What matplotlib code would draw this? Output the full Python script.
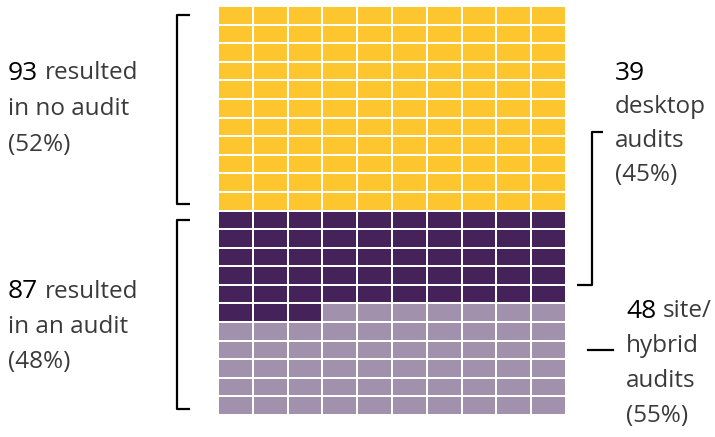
import matplotlib.pyplot as plt
from matplotlib.patches import Rectangle

# waffle cell counts as drawn (10 columns, filled row by row from the top)
n_cols = 10
group_names = ["no audit", "desktop audit", "site/hybrid audit"]
group_cells = [110, 53, 57]
group_colors = ["#FEC62E", "#45235A", "#A191AD"]

# annotation values
no_audit_n, no_audit_pct = 93, 52
audit_n, audit_pct = 87, 48
desktop_n, desktop_pct = 39, 45
site_n, site_pct = 48, 55

W, H = 715, 437
fig = plt.figure(figsize=(W / 100, H / 100), dpi=100)
ax = fig.add_axes([0, 0, 1, 1])
ax.set_xlim(0, W)
ax.set_ylim(H, 0)
ax.axis("off")

# grid frame in pixels
gx0, gx1, gy0, gy1 = 218, 566, 6, 415
n_rows = sum(group_cells) // n_cols
cw = (gx1 - gx0) / n_cols
ch = (gy1 - gy0) / n_rows
gap = 1.0

k = 0
for cells, col in zip(group_cells, group_colors):
    for _ in range(cells):
        r, c = divmod(k, n_cols)
        ax.add_patch(Rectangle((gx0 + c * cw + gap, gy0 + r * ch + gap),
                               cw - 2 * gap, ch - 2 * gap, facecolor=col, edgecolor="none"))
        k += 1

lc = "black"
lw = 1.6
# left brackets
for y0, y1 in [(15, 204), (220, 409)]:
    ax.plot([190, 177, 177, 190], [y0, y0, y1, y1], color=lc, lw=lw, solid_capstyle="butt")
# right bracket for desktop audits
ax.plot([603, 592, 592, 577], [132, 132, 285, 285], color=lc, lw=lw, solid_capstyle="butt")
# dash for site/hybrid
ax.plot([588, 613], [350, 350], color=lc, lw=lw)

font = "Open Sans"
txt_col = "#3a3a3a"
fs = 17.5
nfs = 19


def label(x, y, num, first, rest, step=35):
    t = ax.text(x, y, str(num), fontsize=nfs, color="black", family=font, va="center", ha="left")
    if first:
        fig.canvas.draw()
        bb = t.get_window_extent()
        ax.text(bb.x1 + 7, y, first, fontsize=fs, color=txt_col, family=font, va="center", ha="left")
    for i, line in enumerate(rest):
        ax.text(x, y + step * (i + 1), line, fontsize=fs, color=txt_col, family=font, va="center", ha="left")


label(8, 73, no_audit_n, "resulted", ["in no audit", f"({no_audit_pct}%)"], step=36)
label(8, 292, audit_n, "resulted", ["in an audit", f"({audit_pct}%)"], step=35)
label(615, 73, desktop_n, "", ["desktop", "audits", f"({desktop_pct}%)"], step=34)
label(626, 311, site_n, "site/", ["hybrid", "audits", f"({site_pct}%)"], step=35)

fig.savefig("out.png", dpi=100)
